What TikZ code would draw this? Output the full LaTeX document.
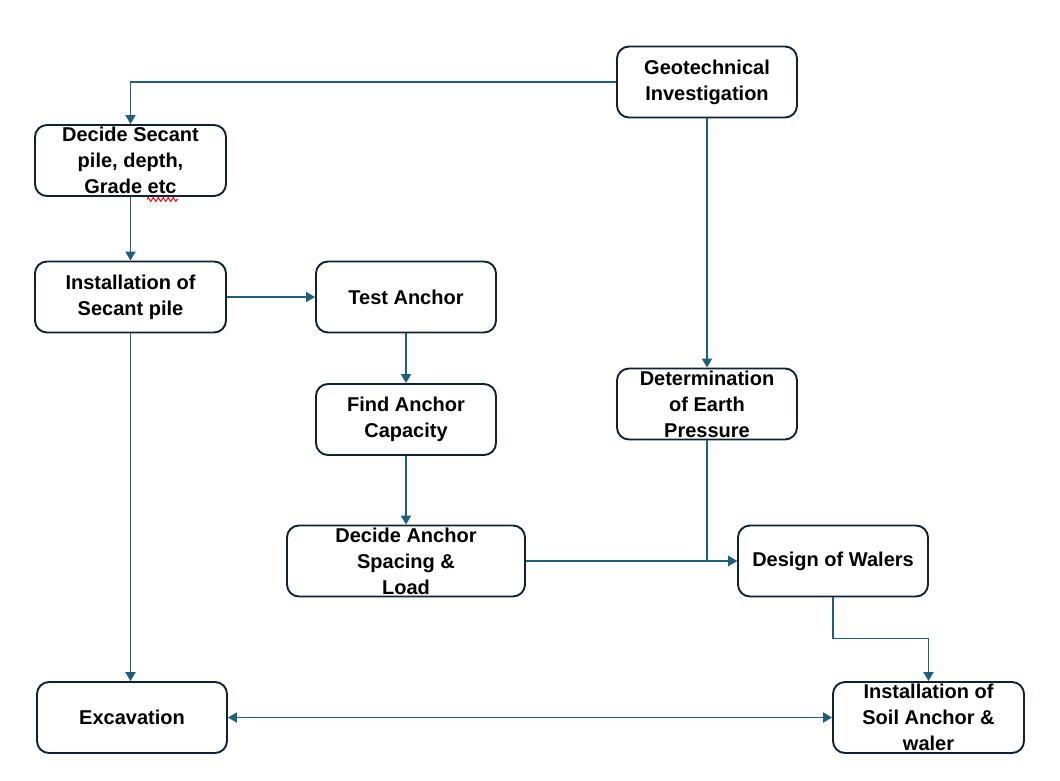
\documentclass[tikz,border=0pt]{standalone}
\usepackage{fontspec}
\setmainfont{Liberation Sans}
\usetikzlibrary{arrows.meta,decorations.pathmorphing}
\definecolor{linecol}{HTML}{1F5F7E}
\definecolor{boxline}{HTML}{0F2233}
\begin{document}
\begin{tikzpicture}[x=1pt,y=-1pt,
  box/.style={draw=boxline,line width=1.9pt,rounded corners=12pt,minimum width=#1,minimum height=71pt,inner sep=0pt},
  box/.default=180pt,
  txt/.style={align=center,inner sep=0pt,font=\fontsize{20}{26}\selectfont\bfseries},
  link/.style={draw=linecol,line width=1.9pt,-{Triangle[length=9pt,width=10pt]}}]
\useasboundingbox (0,0) rectangle (1060,780);
% boxes
\node[box=180pt] (geo) at (707,82) {};
\node[box=191pt] (dec) at (130.5,160.5) {};
\node[box=191pt] (ins) at (130.5,297) {};
\node[box=180pt] (test) at (406,297) {};
\node[box=180pt] (find) at (406,419.5) {};
\node[box=238pt] (spac) at (406,561) {};
\node[box=180pt] (det) at (707,404) {};
\node[box=190pt] (wal) at (833,561) {};
\node[box=190pt] (exc) at (132,717.5) {};
\node[box=191pt] (soil) at (928.5,717.5) {};
% texts
\node[txt] (geot) at (geo) {Geotechnical\\Investigation};
\node[txt] (dect) at (dec) {Decide Secant\\pile, depth,\\Grade etc};
\node[txt] (inst) at (ins) {Installation of\\Secant pile};
\node[txt] (testt) at (test) {Test Anchor};
\node[txt] (findt) at (find) {Find Anchor\\Capacity};
\node[txt] (spact) at (spac) {Decide Anchor\\Spacing \&\\Load};
\node[txt] (dett) at (det) {Determination\\of Earth\\Pressure};
\node[txt] (walt) at (wal) {Design of Walers};
\node[txt] (exct) at (exc) {Excavation};
\node[txt] (soilt) at (soil) {Installation of\\Soil Anchor \&\\waler};
% spell-check squiggle
\draw[red,line width=0.9pt,decorate,decoration={zigzag,segment length=5pt,amplitude=2pt}] (147,199.5) -- (178,199.5);
% connectors
\draw[link] (geo.west) -| (dec.north);
\draw[link] (dec.south) -- (ins.north);
\draw[link] (ins.east) -- (test.west);
\draw[link] (test.south) -- (find.north);
\draw[link] (find.south) -- (spac.north);
\draw[link] (ins.south) -- (ins.south |- exc.north);
\draw[link] (geo.south) -- (det.north);
\draw[link] (det.south) |- (wal.west);
\draw[link] (spac.east) -- (wal.west);
\draw[link] (wal.south) -- ++(0,41) -| (soil.north);
\draw[link,{Triangle[length=9pt,width=10pt]}-{Triangle[length=9pt,width=10pt]}] (exc.east) -- (soil.west);
\end{tikzpicture}
\end{document}
